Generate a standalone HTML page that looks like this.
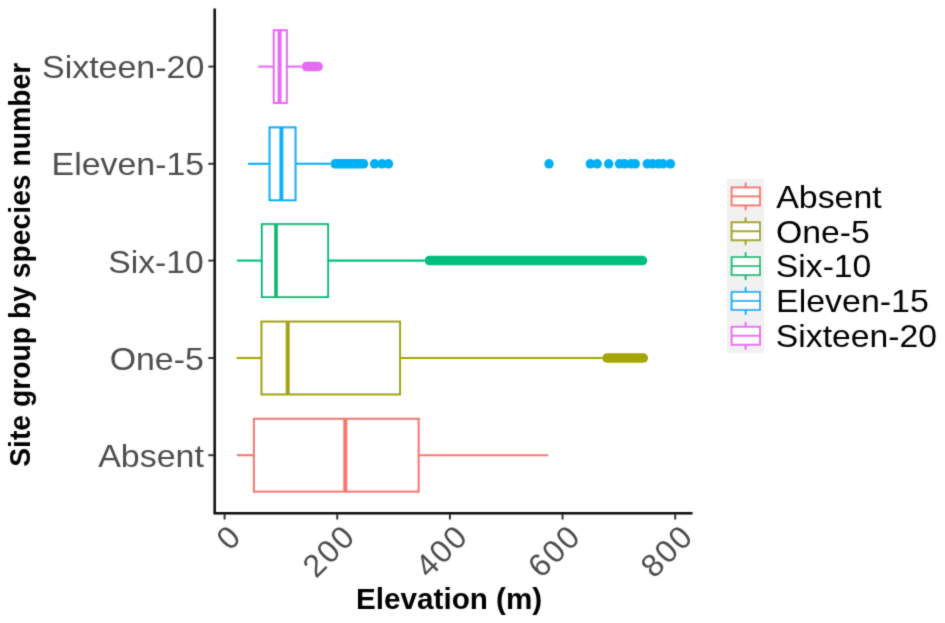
<!DOCTYPE html>
<html><head><meta charset="utf-8"><style>
html,body{margin:0;padding:0;background:#fff;}
body{width:945px;height:623px;overflow:hidden;font-family:"Liberation Sans",sans-serif;}
svg{display:block;}
#wrap{width:945px;height:623px;}
</style></head><body>
<div id="wrap"><svg width="945" height="623" viewBox="0 0 945 623">
<defs><filter id="bl" x="-5%" y="-5%" width="110%" height="110%"><feConvolveMatrix order="3" kernelMatrix="0.0400 0.2000 0.0400 0.2000 1.0000 0.2000 0.0400 0.2000 0.0400" divisor="1.9600" preserveAlpha="false" edgeMode="none"/></filter></defs>
<rect width="945" height="623" fill="#fff"/>
<g filter="url(#bl)">
<g stroke="#F8766D" fill="none" stroke-width="2.1">
<line x1="236.9" y1="455.2" x2="253.9" y2="455.2"/>
<line x1="418.6" y1="455.2" x2="548.2" y2="455.2"/>
<rect x="253.9" y="418.80" width="164.70" height="72.8" fill="#fff"/>
<line x1="345.3" y1="418.80" x2="345.3" y2="491.60" stroke-width="4.1"/>
</g>
<g stroke="#A3A500" fill="none" stroke-width="2.1">
<line x1="236.6" y1="358.0" x2="261.5" y2="358.0"/>
<line x1="400.0" y1="358.0" x2="602.2" y2="358.0"/>
<rect x="261.5" y="321.60" width="138.50" height="72.8" fill="#fff"/>
<line x1="287.7" y1="321.60" x2="287.7" y2="394.40" stroke-width="4.1"/>
</g>
<line x1="606.95" y1="358.0" x2="643.35" y2="358.0" stroke="#A3A500" stroke-width="9.5" stroke-linecap="round"/>
<g stroke="#00BF7D" fill="none" stroke-width="2.1">
<line x1="237.0" y1="260.6" x2="261.9" y2="260.6"/>
<line x1="328.0" y1="260.6" x2="424.6" y2="260.6"/>
<rect x="261.9" y="224.20" width="66.10" height="72.8" fill="#fff"/>
<line x1="276.0" y1="224.20" x2="276.0" y2="297.00" stroke-width="4.1"/>
</g>
<line x1="429.35" y1="260.6" x2="642.55" y2="260.6" stroke="#00BF7D" stroke-width="9.5" stroke-linecap="round"/>
<g stroke="#00B0F6" fill="none" stroke-width="2.1">
<line x1="248.0" y1="163.8" x2="269.6" y2="163.8"/>
<line x1="295.5" y1="163.8" x2="330.4" y2="163.8"/>
<rect x="269.6" y="127.40" width="25.90" height="72.8" fill="#fff"/>
<line x1="281.4" y1="127.40" x2="281.4" y2="200.20" stroke-width="4.1"/>
</g>
<line x1="335.15" y1="163.8" x2="363.55" y2="163.8" stroke="#00B0F6" stroke-width="9.5" stroke-linecap="round"/>
<circle cx="374.6" cy="163.8" r="4.75" fill="#00B0F6"/>
<circle cx="382" cy="163.8" r="4.75" fill="#00B0F6"/>
<circle cx="388.5" cy="163.8" r="4.75" fill="#00B0F6"/>
<circle cx="549" cy="163.8" r="4.75" fill="#00B0F6"/>
<circle cx="590.4" cy="163.8" r="4.75" fill="#00B0F6"/>
<circle cx="597.2" cy="163.8" r="4.75" fill="#00B0F6"/>
<circle cx="608.7" cy="163.8" r="4.75" fill="#00B0F6"/>
<circle cx="619.5" cy="163.8" r="4.75" fill="#00B0F6"/>
<circle cx="624.5" cy="163.8" r="4.75" fill="#00B0F6"/>
<circle cx="631" cy="163.8" r="4.75" fill="#00B0F6"/>
<circle cx="635.3" cy="163.8" r="4.75" fill="#00B0F6"/>
<circle cx="647.3" cy="163.8" r="4.75" fill="#00B0F6"/>
<circle cx="652.5" cy="163.8" r="4.75" fill="#00B0F6"/>
<circle cx="658.4" cy="163.8" r="4.75" fill="#00B0F6"/>
<circle cx="663" cy="163.8" r="4.75" fill="#00B0F6"/>
<circle cx="670.4" cy="163.8" r="4.75" fill="#00B0F6"/>
<g stroke="#E76BF3" fill="none" stroke-width="2.1">
<line x1="258.2" y1="66.6" x2="273.8" y2="66.6"/>
<line x1="286.8" y1="66.6" x2="301.7" y2="66.6"/>
<rect x="273.8" y="30.20" width="13.00" height="72.8" fill="#fff"/>
<line x1="279.6" y1="30.20" x2="279.6" y2="103.00" stroke-width="4.1"/>
</g>
<line x1="306.45" y1="66.6" x2="318.15" y2="66.6" stroke="#E76BF3" stroke-width="9.5" stroke-linecap="round"/>
<g stroke="#0a0a0a" stroke-width="2.5" fill="none">
<path d="M214.7 8.5 V513.3 H692.5"/>
</g>
<g stroke="#333" stroke-width="2">
<line x1="208.3" y1="66.6" x2="214" y2="66.6"/>
<line x1="208.3" y1="163.8" x2="214" y2="163.8"/>
<line x1="208.3" y1="260.6" x2="214" y2="260.6"/>
<line x1="208.3" y1="358.0" x2="214" y2="358.0"/>
<line x1="208.3" y1="455.2" x2="214" y2="455.2"/>
<line x1="224.60" y1="514" x2="224.60" y2="519.5"/>
<line x1="337.25" y1="514" x2="337.25" y2="519.5"/>
<line x1="449.90" y1="514" x2="449.90" y2="519.5"/>
<line x1="562.55" y1="514" x2="562.55" y2="519.5"/>
<line x1="675.20" y1="514" x2="675.20" y2="519.5"/>
</g>
<g font-family="Liberation Sans, sans-serif" fill="#4D4D4D">
<text x="42.04" y="78.10" font-size="32.2" textLength="162.28" lengthAdjust="spacingAndGlyphs">Sixteen-20</text>
<text x="51.62" y="175.00" font-size="32.2" textLength="152.60" lengthAdjust="spacingAndGlyphs">Eleven-15</text>
<text x="108.25" y="272.70" font-size="32.2" textLength="95.48" lengthAdjust="spacingAndGlyphs">Six-10</text>
<text x="109.71" y="369.80" font-size="32.2" textLength="94.12" lengthAdjust="spacingAndGlyphs">One-5</text>
<text x="98.23" y="467.10" font-size="32.2" textLength="105.72" lengthAdjust="spacingAndGlyphs">Absent</text>
</g>
<g font-family="Liberation Sans, sans-serif" font-size="32.0" letter-spacing="1.7" fill="#4D4D4D" text-anchor="end">
<text transform="translate(227.90,522.30) scale(1.0,1) rotate(-45)" dy="22">0</text>
<text transform="translate(341.85,522.30) scale(1.0,1) rotate(-45)" dy="22">200</text>
<text transform="translate(454.50,522.30) scale(1.0,1) rotate(-45)" dy="22">400</text>
<text transform="translate(567.15,522.30) scale(1.0,1) rotate(-45)" dy="22">600</text>
<text transform="translate(679.80,522.30) scale(1.0,1) rotate(-45)" dy="22">800</text>
</g>
<g font-family="Liberation Sans, sans-serif" fill="#000"><text x="356.11" y="609.30" font-size="29.5" font-weight="bold" textLength="186.06" lengthAdjust="spacingAndGlyphs">Elevation (m)</text></g>
<text transform="translate(30,264.8) rotate(-90) scale(1,1.04)" font-family="Liberation Sans, sans-serif" font-weight="bold" font-size="28.3" text-anchor="middle" fill="#000">Site group by species number</text>
<rect x="726.9" y="178.8" width="37.0" height="174.2" fill="#F1F1F1"/>
<g stroke="#F8766D" stroke-width="2.0" fill="#fff">
<line x1="745.6" y1="182.40" x2="745.6" y2="210.40"/>
<rect x="731.6" y="187.40" width="28.4" height="18"/>
<line x1="731.6" y1="196.40" x2="760" y2="196.40"/>
</g>
<g font-family="Liberation Sans, sans-serif" fill="#000"><text x="776.23" y="207.70" font-size="32.2" textLength="105.52" lengthAdjust="spacingAndGlyphs">Absent</text></g>
<g stroke="#A3A500" stroke-width="2.0" fill="#fff">
<line x1="745.6" y1="217.24" x2="745.6" y2="245.24"/>
<rect x="731.6" y="222.24" width="28.4" height="18"/>
<line x1="731.6" y1="231.24" x2="760" y2="231.24"/>
</g>
<g font-family="Liberation Sans, sans-serif" fill="#000"><text x="776.01" y="242.54" font-size="32.2" textLength="93.81" lengthAdjust="spacingAndGlyphs">One-5</text></g>
<g stroke="#00BF7D" stroke-width="2.0" fill="#fff">
<line x1="745.6" y1="252.08" x2="745.6" y2="280.08"/>
<rect x="731.6" y="257.08" width="28.4" height="18"/>
<line x1="731.6" y1="266.08" x2="760" y2="266.08"/>
</g>
<g font-family="Liberation Sans, sans-serif" fill="#000"><text x="775.85" y="277.38" font-size="32.2" textLength="95.48" lengthAdjust="spacingAndGlyphs">Six-10</text></g>
<g stroke="#00B0F6" stroke-width="2.0" fill="#fff">
<line x1="745.6" y1="286.92" x2="745.6" y2="314.92"/>
<rect x="731.6" y="291.92" width="28.4" height="18"/>
<line x1="731.6" y1="300.92" x2="760" y2="300.92"/>
</g>
<g font-family="Liberation Sans, sans-serif" fill="#000"><text x="776.12" y="312.22" font-size="32.2" textLength="152.70" lengthAdjust="spacingAndGlyphs">Eleven-15</text></g>
<g stroke="#E76BF3" stroke-width="2.0" fill="#fff">
<line x1="745.6" y1="321.76" x2="745.6" y2="349.76"/>
<rect x="731.6" y="326.76" width="28.4" height="18"/>
<line x1="731.6" y1="335.76" x2="760" y2="335.76"/>
</g>
<g font-family="Liberation Sans, sans-serif" fill="#000"><text x="775.85" y="347.06" font-size="32.2" textLength="161.16" lengthAdjust="spacingAndGlyphs">Sixteen-20</text></g>
</g>
</svg></div>
</body></html>
